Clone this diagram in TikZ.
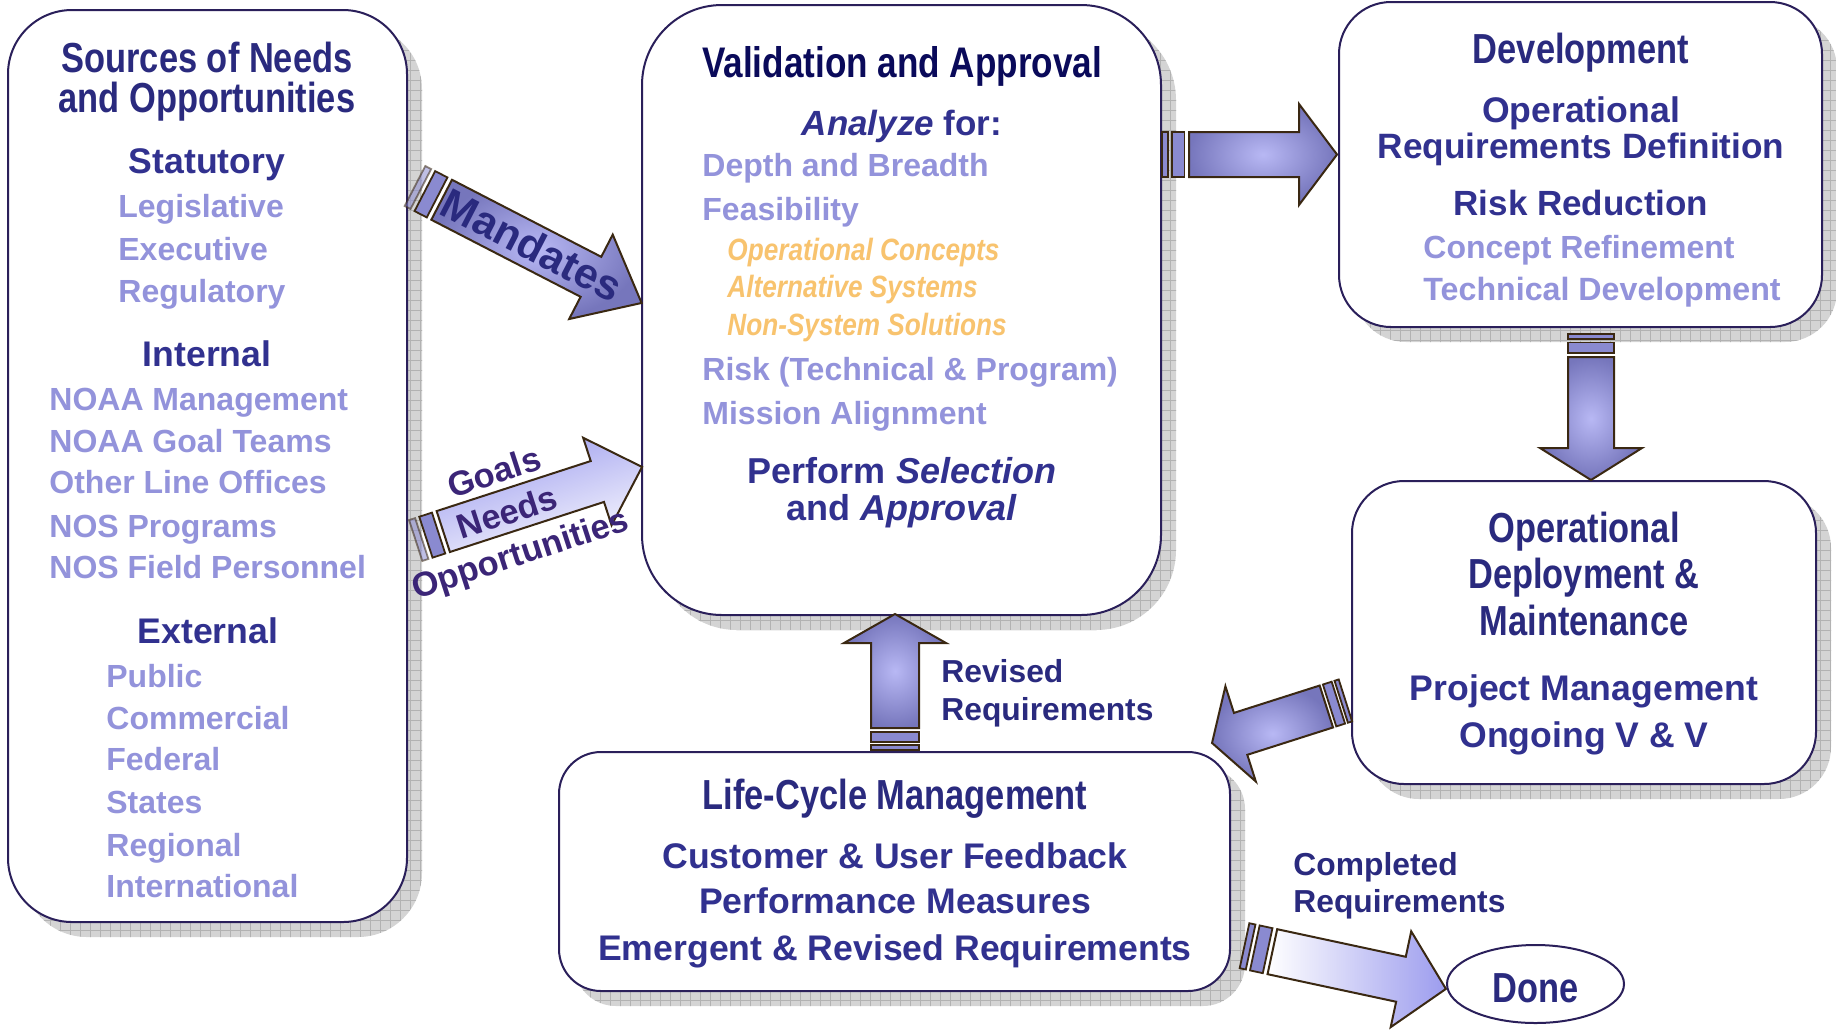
\documentclass[tikz,border=0pt]{standalone}
\usepackage{fontspec}
\setmainfont{Liberation Sans}
\newfontfamily\narf[FakeStretch=0.82]{Liberation Sans}
\newfontfamily\semf[FakeStretch=0.85]{Liberation Sans}
\usetikzlibrary{shapes.geometric,patterns.meta}
\newcommand\myfs[1]{\fontsize{#1pt}{#1pt}\selectfont}
\definecolor{titlecol}{HTML}{2A2A7E}
\definecolor{navy}{HTML}{31318F}
\definecolor{valtitle}{HTML}{0A0A5A}
\definecolor{lightp}{HTML}{9393DB}
\definecolor{orangec}{HTML}{F8C36E}
\definecolor{lblpurple}{HTML}{3B2577}
\definecolor{boxline}{HTML}{2A1F5A}
\definecolor{arrowline}{HTML}{3A2812}
\definecolor{arrowlight}{HTML}{B8B8F4}
\definecolor{arrowdark}{HTML}{7676BC}
\definecolor{stripec}{HTML}{8A8AD0}
\definecolor{shadowc}{HTML}{D4D4D4}
\definecolor{gridc}{HTML}{B2B2B2}
\definecolor{goalp}{HTML}{9C9CEE}
\begin{document}
\begin{tikzpicture}[x=0.5pt,y=-0.5pt,
  boxst/.style={draw=boxline, line width=1pt, fill=white, rounded corners=#1, inner sep=0pt},
  shad/.style={fill=shadowc, rounded corners=#1, postaction={pattern={Hatch[angle=0,distance=5pt,line width=0.35pt]}, pattern color=gridc}},
  ttl/.style={font=\narf\bfseries\myfs{21}, text=titlecol, inner sep=0pt, anchor=base},
  sub/.style={font=\bfseries\myfs{17.8}, text=navy, inner sep=0pt, anchor=base},
  itm/.style={font=\bfseries\myfs{16}, text=lightp, inner sep=0pt, anchor=base west},
  org/.style={font=\semf\bfseries\itshape\myfs{15.4}, text=orangec, inner sep=0pt, anchor=base west},
  lbl/.style={font=\bfseries\myfs{15.9}, text=titlecol, inner sep=0pt, anchor=base west},
  gl/.style={font=\bfseries\myfs{17.2}, text=lblpurple, inner sep=0pt, rotate=18},
  stripe/.style={fill=stripec, draw=arrowline, line width=0.9pt},
  stripeA/.style={},
  barrow/.style={draw=arrowline, line width=1pt, line join=miter, inner color=arrowlight, outer color=arrowdark},
  garrow/.style={draw=arrowline, line width=1pt, line join=miter, top color=goalp, bottom color=white!94!goalp, shading angle=18},
  darrow/.style={draw=arrowline, line width=1pt, line join=miter, left color=white, right color=goalp},
  pics/sarrow/.style n args={6}{code={
    \path[stripe, stripeA] (0,-#2) rectangle ({0.22*#5},#2);
    \path[stripe] ({0.37*#5},-#2) rectangle ({0.83*#5},#2);
    \path[#6] (#5,-#2) -- ({#1-#4},-#2) -- ({#1-#4},-#3) -- (#1,0) -- ({#1-#4},#3) -- ({#1-#4},#2) -- (#5,#2) -- cycle;
  }}
]
\useasboundingbox (0,0) rectangle (1836,1030);

% shadows
\path[shad=32pt] (23,25) rectangle (422,937);
\path[shad=40pt] (657,20) rectangle (1176,630);
\path[shad=26pt] (1354,17) rectangle (1837,342);
\path[shad=26pt] (1367,496) rectangle (1831,799);
\path[shad=21pt] (574,767) rectangle (1245,1006);

% boxes
\node[boxst=32pt, minimum width=199.5pt, minimum height=456pt] (src) at (207.5,466) {};
\node[boxst=40pt, minimum width=259.5pt, minimum height=305pt] (val) at (901.5,310) {};
\node[boxst=26pt, minimum width=241.5pt, minimum height=162.5pt] (dev) at (1580.5,164.5) {};
\node[boxst=26pt, minimum width=232pt, minimum height=151.5pt] (opd) at (1584,632.5) {};
\node[boxst=21pt, minimum width=335.5pt, minimum height=119.5pt] (lcm) at (894.5,871.5) {};
\node[draw=boxline, line width=1pt, fill=white, ellipse, inner sep=0pt, minimum width=88.5pt, minimum height=39pt,
      font=\narf\bfseries\myfs{21}, text=titlecol] (done) at (1535.5,984) {\raisebox{-9pt}[0pt][0pt]{Done}};

% arrow anchors
\coordinate (tM) at (415,186);
\coordinate (tG) at (415.7,540.5);
\coordinate (tH) at (1162,154.5);
\coordinate (tD) at (1591,334);
\coordinate (tU) at (895,750);
\coordinate (tO) at (1345.4,700.4);
\coordinate (tC) at (1244.5,945.7);

\pic[rotate=-27.3, stripeA/.style={opacity=0.55}] at (tM) {sarrow={255}{22.5}{47.5}{57}{30}{barrow}};
\pic[rotate=18, stripeA/.style={opacity=0.55}] at (tG) {sarrow={238}{21.5}{46}{47}{29}{garrow}};
\pic at (tH) {sarrow={175}{22.5}{50.5}{38}{27}{barrow}};
\pic[rotate=-90] at (tD) {sarrow={146}{23}{51}{32}{23}{barrow}};
\pic[rotate=90] at (tU) {sarrow={136}{24}{51}{29}{22}{barrow}};
\pic[rotate=197.7] at (tO) {sarrow={140}{22}{50}{30}{20}{barrow}};
\pic[rotate=-12.1] at (tC) {sarrow={206}{23}{49}{46}{28.5}{darrow}};

% Sources box
\node[ttl] (s1) at (207,72) {Sources of Needs};
\node[ttl] (s2) at (207,112) {and Opportunities};
\node[sub] (s3) at (207,173) {Statutory};
\node[itm] (s4) at (118,217) {Legislative};
\node[itm] (s5) at (118,260) {Executive};
\node[itm] (s6) at (118,302) {Regulatory};
\node[sub] (s7) at (207,366) {Internal};
\node[itm] (s8) at (49,410) {NOAA Management};
\node[itm] (s9) at (49,452) {NOAA Goal Teams};
\node[itm] (s10) at (49,493) {Other Line Offices};
\node[itm] (s11) at (49,537) {NOS Programs};
\node[itm] (s12) at (49,578) {NOS Field Personnel};
\node[sub] (s13) at (208,643) {External};
\node[itm] (s14) at (106,687) {Public};
\node[itm] (s15) at (106,729) {Commercial};
\node[itm] (s16) at (106,770) {Federal};
\node[itm] (s17) at (106,813) {States};
\node[itm] (s18) at (106,856) {Regional};
\node[itm] (s19) at (106,897) {International};

% Validation box
\node[ttl, text=valtitle, font=\narf\bfseries\myfs{21.4}] (v1) at (902,77) {Validation and Approval};
\node[sub, font=\bfseries\myfs{17.5}] (v2) at (902,135) {\textit{Analyze} for:};
\node[itm] (v3) at (702,176) {Depth and Breadth};
\node[itm] (v4) at (702,220) {Feasibility};
\node[org] (v5) at (727,260) {Operational Concepts};
\node[org] (v6) at (727,297) {Alternative Systems};
\node[org] (v7) at (727,335) {Non-System Solutions};
\node[itm] (v8) at (702,380) {Risk (Technical \& Program)};
\node[itm] (v9) at (702,424) {Mission Alignment};
\node[sub, font=\bfseries\myfs{18}] (v10) at (902,483) {Perform \textit{Selection}};
\node[sub, font=\bfseries\myfs{18}] (v11) at (902,520) {and \textit{Approval}};

% Development box
\node[ttl] (d1) at (1581,63) {Development};
\node[sub, font=\bfseries\myfs{17.8}] (d2) at (1581,122) {Operational};
\node[sub, font=\bfseries\myfs{17.6}] (d3) at (1581,158) {Requirements Definition};
\node[sub, font=\bfseries\myfs{17.5}] (d4) at (1581,215) {Risk Reduction};
\node[itm] (d5) at (1423,258) {Concept Refinement};
\node[itm, font=\bfseries\myfs{16.1}] (d6) at (1423,300) {Technical Development};

% Operational deployment box
\node[ttl] (o1) at (1584,542) {Operational};
\node[ttl] (o2) at (1584,588) {Deployment \&};
\node[ttl] (o3) at (1584,635) {Maintenance};
\node[sub] (o4) at (1584,700) {Project Management};
\node[sub] (o5) at (1584,747) {Ongoing V \& V};

% Life-cycle box
\node[ttl] (l1) at (895,809) {Life-Cycle Management};
\node[sub] (l2) at (895,868) {Customer \& User Feedback};
\node[sub] (l3) at (895,913) {Performance Measures};
\node[sub] (l4) at (895,960) {Emergent \& Revised Requirements};

% connector labels
\node[lbl] (r1) at (941,682) {Revised};
\node[lbl] (r2) at (941,720) {Requirements};
\node[lbl] (c1) at (1293,875) {Completed};
\node[lbl] (c2) at (1293,912) {Requirements};
\node[font=\bfseries\myfs{21.3}, text=titlecol, inner sep=0pt, rotate=-27.3] (mand) at (532,245) {Mandates};
\node[gl] (g1) at (494,472) {Goals};
\node[gl] (g2) at (507,512) {Needs};
\node[gl] (g3) at (521,556) {Opportunities};
\end{tikzpicture}
\end{document}
